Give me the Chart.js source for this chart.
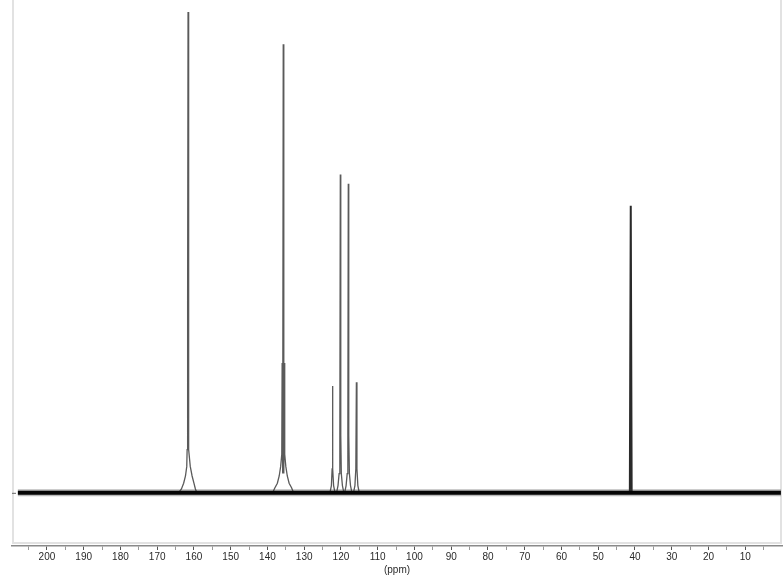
<!DOCTYPE html>
<html>
<head>
<meta charset="utf-8">
<script src="https://cdn.jsdelivr.net/npm/chart.js@4"></script>
<style>
  html, body { margin: 0; padding: 0; background: #fff; }
  #spectrum { display: block; }
</style>
</head>
<body>
<canvas id="spectrum" width="783" height="576"></canvas>
<script>
// 13C spectrum (ppm, relative intensity, tallest = 100)
const peak162Ppm = [164.2, 163.4, 162.8, 162.3, 161.95, 161.85, 161.75, 161.68, 161.6, 161.52, 161.45, 161.35, 161.0, 160.5, 160.0, 159.6, 159.2];
const peak162Int = [0, 0.8, 2, 3.5, 5.5, 9, 13, 40, 100, 40, 13, 9, 5.5, 3.5, 2, 0.8, 0];

const peak136Ppm = [138.6, 138.0, 137.3, 136.8, 136.4, 136.1, 136.0, 135.85, 135.7, 135.55, 135.4, 135.3, 135.0, 134.6, 134.1, 133.4, 132.9];
const peak136Int = [0, 1, 2, 3.5, 5.5, 8, 27, 4, 93.3, 4, 27, 8, 5.5, 3.5, 2, 1, 0];

const peak122Ppm = [123.0, 122.6, 122.4, 122.3, 122.2, 122.0, 121.6];
const peak122Int = [0, 1.5, 5, 22.2, 5, 1.5, 0];

const peak120Ppm = [121.2, 120.8, 120.5, 120.3, 120.17, 120.05, 119.9, 119.6, 119.2];
const peak120Int = [0, 1.5, 4, 12, 66.2, 12, 4, 1.5, 0];

const peak118Ppm = [119.0, 118.6, 118.3, 118.12, 118.0, 117.88, 117.7, 117.4, 117.0];
const peak118Int = [0, 1.5, 4, 12, 64.3, 12, 4, 1.5, 0];

const peak116Ppm = [116.6, 116.2, 115.95, 115.8, 115.65, 115.4, 115.0];
const peak116Int = [0, 1.5, 5, 23, 5, 1.5, 0];

const peak41Ppm = [41.4, 41.15, 40.9];
const peak41Int = [0, 59.7, 0];

const baselinePpm = [207.9, 0.3];
const baselineInt = [0, 0];

const xTickValues = [205, 200, 195, 190, 185, 180, 175, 170, 165, 160, 155, 150, 145, 140, 135, 130, 125, 120, 115, 110, 105, 100, 95, 90, 85, 80, 75, 70, 65, 60, 55, 50, 45, 40, 35, 30, 25, 20, 15, 10, 5];
const xTickLabels = ['', '200', '', '190', '', '180', '', '170', '', '160', '', '150', '', '140', '', '130', '', '120', '', '110', '', '100', '', '90', '', '80', '', '70', '', '60', '', '50', '', '40', '', '30', '', '20', '', '10', ''];

function toPoints(xs, ys) {
    return xs.map((x, i) => ({ x: x, y: ys[i] }));
}

// the trace of all aromatic/carbonyl peaks, joined along the baseline
const tracePoints = [].concat(
    toPoints(peak162Ppm, peak162Int),
    toPoints(peak136Ppm, peak136Int),
    toPoints(peak122Ppm, peak122Int),
    toPoints(peak120Ppm, peak120Int),
    toPoints(peak118Ppm, peak118Int),
    toPoints(peak116Ppm, peak116Int)
);

// light frame and the little baseline tick on the left
const framePlugin = {
    id: 'frame',
    beforeDatasetsDraw(chart) {
        const { ctx, chartArea, scales } = chart;
        ctx.save();
        ctx.strokeStyle = '#e2e2e2';
        ctx.lineWidth = 2;
        ctx.beginPath();
        ctx.moveTo(chartArea.left + 1, chartArea.top);
        ctx.lineTo(chartArea.left + 1, chartArea.bottom - 3);
        ctx.lineTo(chartArea.right - 1, chartArea.bottom - 3);
        ctx.lineTo(chartArea.right - 1, chartArea.top);
        ctx.stroke();
        const y0 = scales.y.getPixelForValue(0);
        ctx.strokeStyle = '#666';
        ctx.lineWidth = 1;
        ctx.beginPath();
        ctx.moveTo(chartArea.left, y0 + 0.5);
        ctx.lineTo(chartArea.left + 4, y0 + 0.5);
        ctx.stroke();
        ctx.restore();
    }
};

const ctx = document.getElementById('spectrum').getContext('2d');
new Chart(ctx, {
    type: 'line',
    data: {
        datasets: [{
            label: 'peaks',
            data: tracePoints,
            borderColor: '#5a5a5a',
            borderWidth: 1.3,
            pointRadius: 0,
            tension: 0,
            order: 3
        }, {
            label: 'C 41',
            data: toPoints(peak41Ppm, peak41Int),
            borderColor: '#2a2a2a',
            borderWidth: 2,
            pointRadius: 0,
            order: 2
        }, {
            label: 'noise fuzz',
            data: toPoints(baselinePpm, baselineInt),
            borderColor: 'rgba(60,60,60,0.35)',
            borderWidth: 7,
            pointRadius: 0,
            order: 1
        }, {
            label: 'baseline',
            data: toPoints(baselinePpm, baselineInt),
            borderColor: '#050505',
            borderWidth: 4,
            pointRadius: 0,
            order: 0
        }]
    },
    options: {
        responsive: false,
        animation: false,
        layout: { padding: { left: 12, right: 1, top: 0, bottom: 0 } },
        plugins: {
            legend: { display: false },
            tooltip: { enabled: false }
        },
        scales: {
            x: {
                type: 'linear',
                reverse: true,
                min: 0,
                max: 209.5,
                afterBuildTicks(scale) {
                    scale.ticks = xTickValues.map(v => ({ value: v }));
                },
                grid: {
                    drawOnChartArea: false,
                    tickLength: 4,
                    tickColor: (c) => (c.index % 2 === 1 ? '#555' : '#999')
                },
                border: { color: '#8a8a8a', width: 1.5 },
                ticks: {
                    autoSkip: false,
                    maxRotation: 0,
                    padding: 1,
                    color: '#2a2a2a',
                    font: { family: '"Liberation Sans Narrow", "Liberation Sans", sans-serif', size: 10 },
                    callback: (value, index) => xTickLabels[index]
                },
                title: {
                    display: true,
                    text: '(ppm)',
                    color: '#2a2a2a',
                    padding: { top: 0, bottom: 0 },
                    font: { family: '"Liberation Sans", sans-serif', size: 10 }
                }
            },
            y: {
                display: false,
                min: -11.06,
                max: 102.5
            }
        }
    },
    plugins: [framePlugin]
});
</script>
</body>
</html>
